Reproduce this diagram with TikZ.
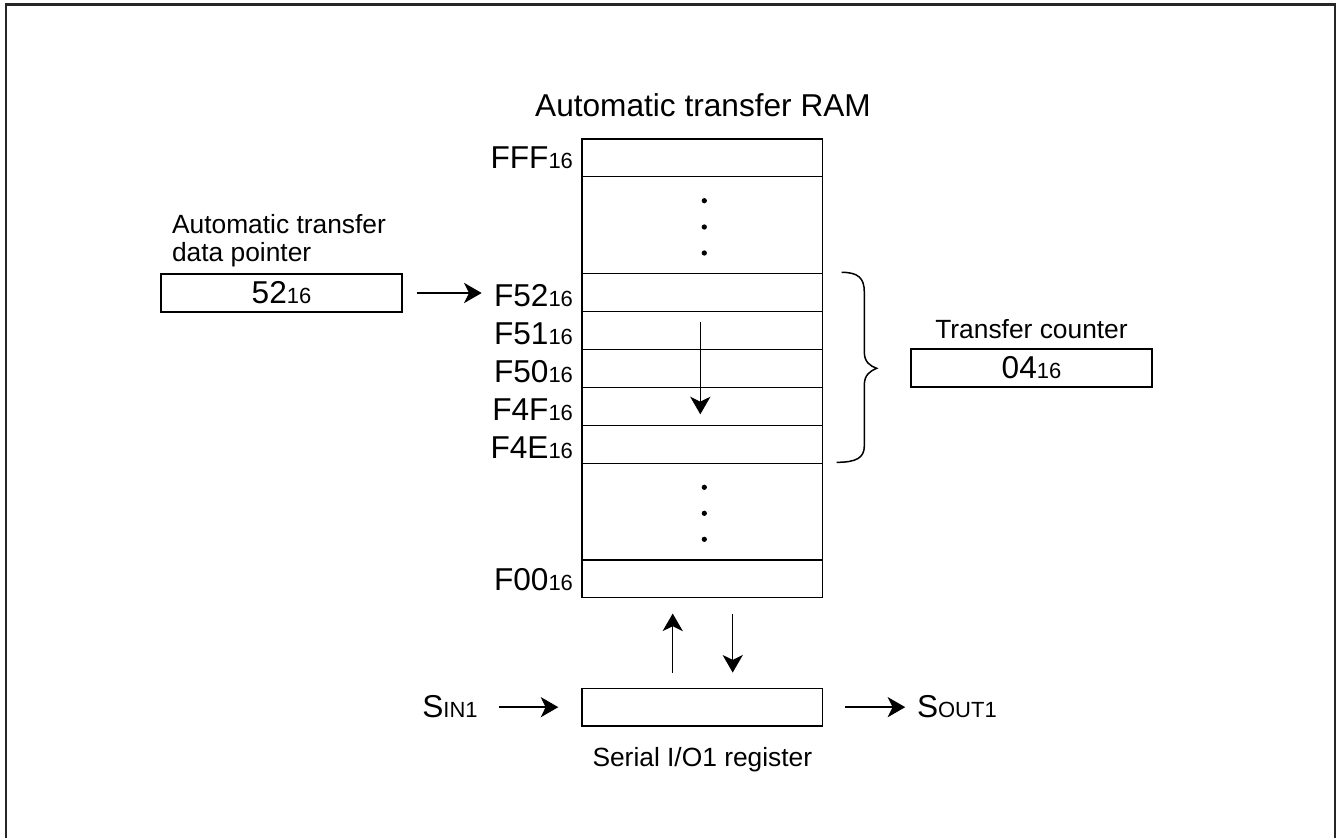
\documentclass[tikz,border=0pt]{standalone}
\usepackage{fontspec}
\setmainfont{Liberation Sans}
\usetikzlibrary{positioning,arrows.meta,calc}
\newcommand{\bigtxt}{\fontsize{18}{20}\selectfont}
\newcommand{\midtxt}{\fontsize{15}{16.1}\selectfont}
\newcommand{\smalltxt}{\fontsize{12.5}{14}\selectfont}
\newcommand{\hx}[2]{{\bigtxt #1}{\smalltxt #2}}

\begin{document}
\begin{tikzpicture}[x=0.02cm,y=-0.02cm,
  cell node/.style={draw,line width=0.85pt,minimum width=4.814cm,minimum height=0.76cm,inner sep=0pt},
  gap node/.style={cell node,minimum height=1.94cm},
  reg node/.style={draw,line width=0.85pt,minimum width=4.82cm,minimum height=0.76cm,inner sep=0pt},
  addr node/.style={inner sep=0pt,anchor=base east},
  text node/.style={inner sep=0pt,font=\midtxt},
  arr/.style={line width=0.85pt,-{Stealth[length=10pt,width=11.5pt,inset=2.8pt]}},
  dot node/.style={fill,circle,inner sep=0pt,minimum size=3pt}]

\useasboundingbox (0,0) rectangle (1337,838);
\draw[line width=1.3pt,black!85] (6.2,838) -- (6.2,4.5) -- (1334.7,4.5) -- (1334.7,838);

\node[inner sep=0pt,anchor=base,font=\bigtxt] (title) at (703,116.7) {Automatic transfer RAM};

\node[cell node,minimum height=0.75cm] (fff) at (702.35,157.75) {};
\node[gap node] (gap1) at (702.35,225) {};
\foreach \n/\y in {f52/292.5,f51/330.5,f50/368.5,f4f/406.5,f4e/444.5}
  \node[cell node] (\n) at (702.35,\y) {};
\node[gap node,minimum height=1.93cm] (gap2) at (702.35,511.75) {};
\node[cell node,minimum height=0.746cm] (f00) at (702.35,578.65) {};

\node[addr node] (fff-lbl) at ($(fff.south west)+(-8,-8.5)$) {\hx{FFF}{16}};
\foreach \n/\t in {f52/F52,f51/F51,f50/F50,f4f/F4F,f4e/F4E}
  \node[addr node] (\n-lbl) at ($(\n.south west)+(-8,-6)$) {\hx{\t}{16}};
\node[addr node] (f00-lbl) at ($(f00.south west)+(-8,-8)$) {\hx{F00}{16}};

\foreach \y [count=\i] in {200.7,227,253,487.3,513.3,539.3}
  \node[dot node] (dot\i) at (704.3,\y) {};

\coordinate (scan top) at (700.3,322.3);
\coordinate (scan end) at (700.3,414.3);
\draw[arr] (scan top) -- (scan end);

\node[reg node] (ptr) at (281.5,293) {\hx{52}{16}};
\node[text node,anchor=base west,align=left] (ptr-lbl) at (171.7,261.7) {Automatic transfer\\data pointer};
\draw[arr,shorten <=0.28cm,shorten >=0.24cm] (ptr.east) -- (ptr.east -| f52-lbl.west);

\node[reg node] (cnt) at (1031.5,368) {\hx{04}{16}};
\node[text node] (cnt-lbl) [above=0.19cm of cnt] {Transfer counter};
\draw[line width=0.85pt] (841.7,272.3) .. controls (858,272.3) and (864.3,278) .. (864.3,292)
  -- (864.3,352) .. controls (864.3,362) and (870,366) .. (876.7,368.3)
  .. controls (870,371) and (864.3,375) .. (864.3,385)
  -- (864.3,446) .. controls (864.3,458) and (856,462.3) .. (836.7,462.3);

\node[reg node,minimum width=4.814cm,minimum height=0.754cm] (ser) at (702.35,707.15) {};
\node[text node] (ser-lbl) [below=0.4cm of ser] {Serial I/O1 register};
\node[addr node] (sin) at (478,717.3) {\hx{S}{IN1}};
\node[inner sep=0pt,anchor=base west] (sout) at (916.7,717.3) {\hx{S}{OUT1}};
\draw[arr,shorten <=0.42cm,shorten >=0.46cm] (sin.east |- ser.west) -- (ser.west);
\draw[arr,shorten <=0.44cm,shorten >=0.23cm] (ser.east) -- (ser.east -| sout.west);

\coordinate (upx) at (672.7,0);
\coordinate (dnx) at (732.7,0);
\draw[arr,shorten <=0.3cm,shorten >=0.31cm] (upx |- ser.north) -- (upx |- f00.south);
\draw[arr,shorten <=0.31cm,shorten >=0.3cm] (dnx |- f00.south) -- (dnx |- ser.north);
\end{tikzpicture}
\end{document}
